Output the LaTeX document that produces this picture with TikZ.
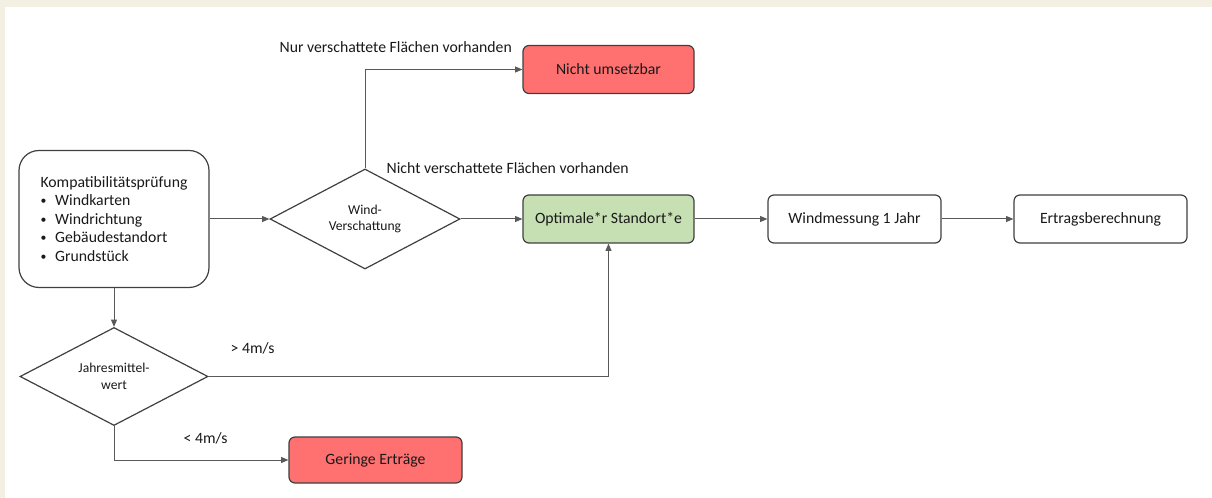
\documentclass[tikz,border=0pt]{standalone}
\usepackage{fontspec}
\setmainfont{Carlito}
\usepackage{tikz}
\usepackage{xcolor}
\usetikzlibrary{shapes.geometric,arrows.meta}

\definecolor{pagebeige}{HTML}{F3EFE3}
\definecolor{stopred}{HTML}{FF7070}
\definecolor{goodgreen}{HTML}{C6E0B4}
\newcommand{\listdot}{\makebox[11pt][l]{\raisebox{0.15ex}{\scalebox{0.75}{\textbullet}}}}

\begin{document}
\begin{tikzpicture}[
    x=0.75pt, y=-0.75pt,
    every node/.style={font=\fontsize{11.8}{13.9}\selectfont, text=black!90},
    box/.style={draw=black!75, line width=0.9pt, rectangle, rounded corners=4.5pt,
      minimum width=128.25pt, minimum height=36pt},
    decision/.style={draw=black!75, line width=0.9pt, diamond, inner sep=0pt,
      minimum width=142.5pt, minimum height=65.25pt, align=center},
    link/.style={draw=black!65, line width=0.75pt, -{Triangle[length=5.5pt,width=4.5pt]}},
  ]
  \fill[pagebeige] (0,0) rectangle (1212,498);
  \fill[white] (5,7) rectangle (1212,498);
  \useasboundingbox (0,0) rectangle (1212,498);

  \node[draw=black!75, line width=0.9pt, rectangle, rounded corners=15pt,
    minimum width=142.5pt, minimum height=102.75pt, align=left] (komp) at (114,219)
    {Kompatibilitätsprüfung\\
     \listdot Windkarten\\
     \listdot Windrichtung\\
     \listdot Gebäudestandort\\
     \listdot Grundstück};
  \node[decision, font=\fontsize{10.2}{12}\selectfont] (wind) at (365,219) {Wind-\\Verschattung};
  \node[decision, minimum width=141pt, font=\fontsize{10.2}{13}\selectfont] (jahr) at (114,376.5) {Jahresmittel-\\wert};
  \node[box, fill=stopred] (nicht) at (608.5,69.5) {Nicht umsetzbar};
  \node[box, fill=goodgreen] (opt) at (608.5,219) {Optimale*r Standort*e};
  \node[box, minimum width=129.75pt] (mess) at (854.5,219) {Windmessung 1 Jahr};
  \node[box, minimum width=129.75pt] (ertrag) at (1100.5,219) {Ertragsberechnung};
  \node[box, fill=stopred, minimum width=129.75pt, minimum height=34.5pt] (gering) at (375.5,460) {Geringe Erträge};

  \draw[link] (komp.east) -- (wind.west);
  \draw[link] (wind.north) |- (nicht.west);
  \draw[link] (wind.east) -- (opt.west);
  \draw[link] (opt.east) -- (mess.west);
  \draw[link] (mess.east) -- (ertrag.west);
  \draw[link] (komp.south) -- (jahr.north);
  \draw[link] (jahr.east) -| (opt.south);
  \draw[link] (jahr.south) |- (gering.west);

  \node[anchor=west] (nurlabel) at (275,47) {Nur verschattete Flächen vorhanden};
  \node[anchor=west] (nichtlabel) at (382,168) {Nicht verschattete Flächen vorhanden};
  \node[anchor=west] (gtlabel) at (226,348) {> 4m/s};
  \node[anchor=west] (ltlabel) at (179,438) {< 4m/s};
\end{tikzpicture}
\end{document}
